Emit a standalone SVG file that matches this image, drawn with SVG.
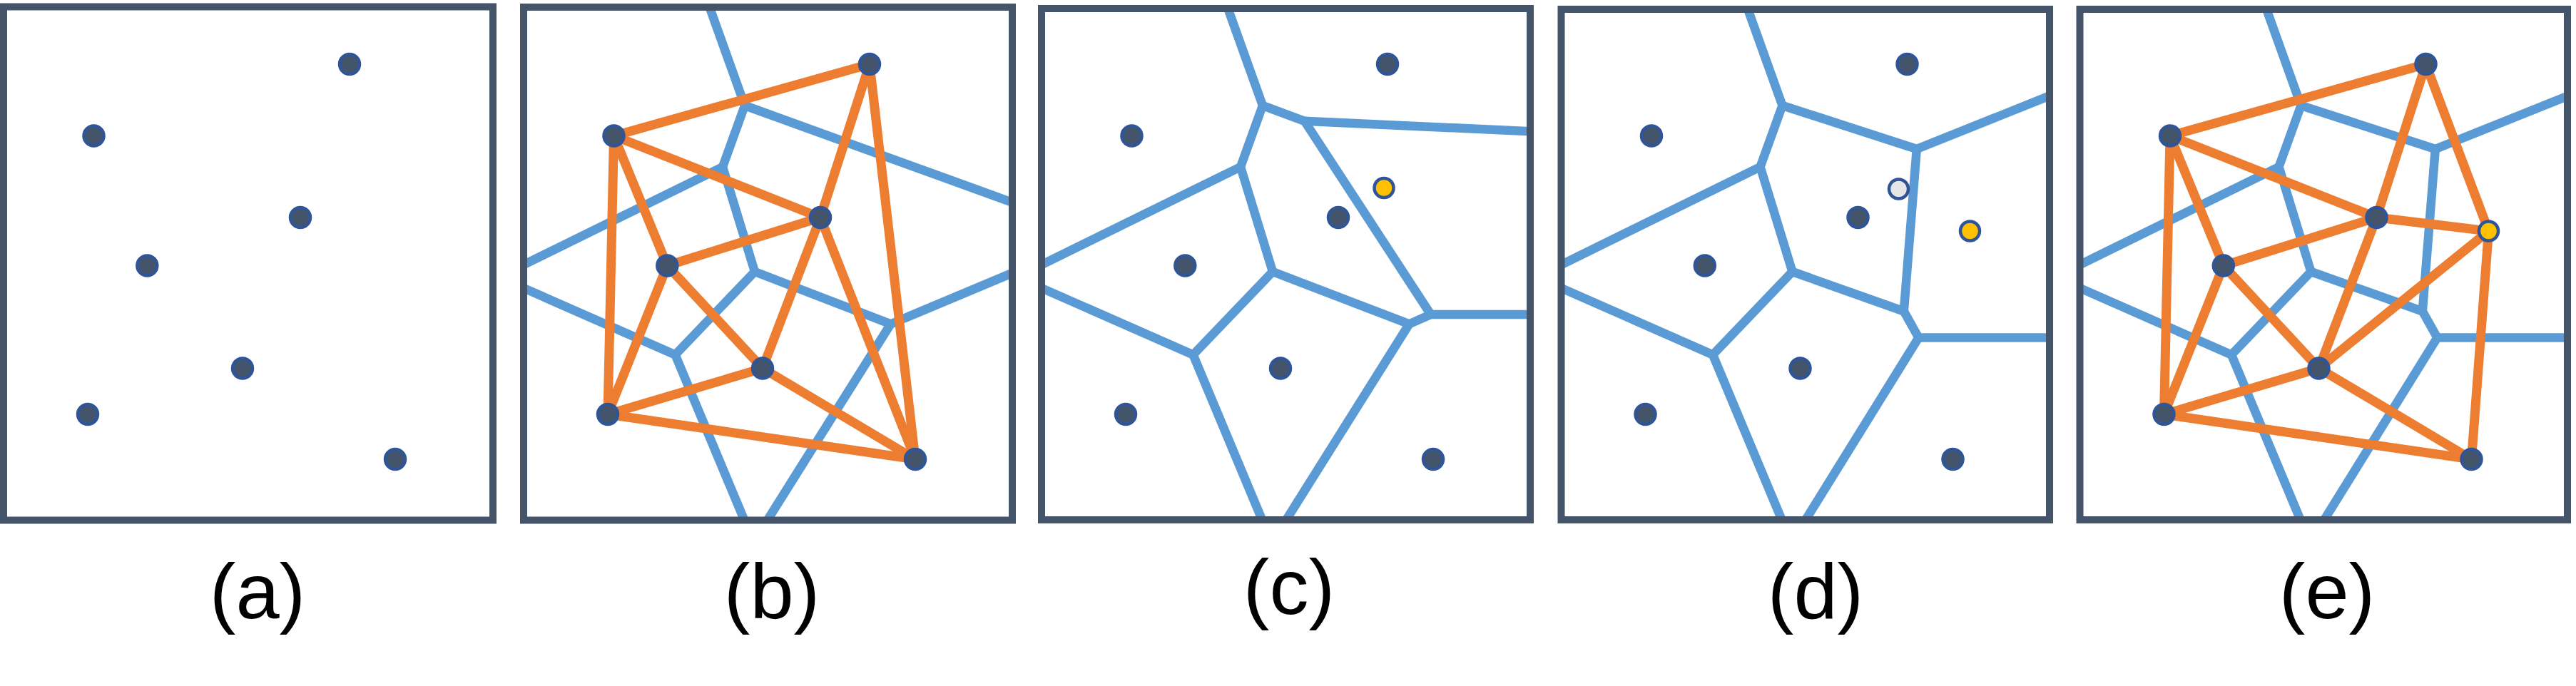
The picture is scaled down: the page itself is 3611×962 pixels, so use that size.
<svg xmlns="http://www.w3.org/2000/svg" width="3611" height="962" viewBox="0 0 3611 962">
<style>
.frame{fill:none;stroke:#44546A;stroke-width:10}
.vor line{stroke:#5B9BD5;stroke-width:12.5;stroke-linecap:butt}
.del line{stroke:#ED7D31;stroke-width:13;stroke-linecap:round}
.pt{fill:#44546A;stroke:#2F5597;stroke-width:4.5}
.ypt{fill:#FFC000;stroke:#2F5597;stroke-width:4.5}
.wpt{fill:#E7E6E6;stroke:#2F5597;stroke-width:4.5}
.lbl{font-family:"Liberation Sans",Arial,sans-serif;font-size:110px;fill:#000;text-anchor:middle}
</style>
<defs>
<clipPath id="inner" clipPathUnits="userSpaceOnUse"><rect x="0" y="11" width="685" height="718.5"/></clipPath>
</defs>
<rect width="3611" height="962" fill="#fff"/>

<!-- Panel (a) -->
<g id="panel-a" transform="translate(5,0)">
  <g id="a-p1"><circle class="pt" cx="485" cy="90" r="14"/></g>
  <g id="a-p2"><circle class="pt" cx="126.5" cy="190.5" r="14"/></g>
  <g id="a-p3"><circle class="pt" cx="416" cy="305" r="14"/></g>
  <g id="a-p4"><circle class="pt" cx="201.3" cy="372.5" r="14"/></g>
  <g id="a-p5"><circle class="pt" cx="335" cy="516.5" r="14"/></g>
  <g id="a-p6"><circle class="pt" cx="118" cy="581" r="14"/></g>
  <g id="a-p7"><circle class="pt" cx="549" cy="644" r="14"/></g>
  <rect class="frame" x="0" y="9.5" width="686" height="720"/>
</g>

<!-- Panel (b) -->
<g id="panel-b" transform="translate(734,0)">
  <g id="b-connectors">
    <g class="vor" clip-path="url(#inner)">
      <line x1="257" y1="0" x2="310" y2="148"/>
      <line x1="310" y1="148" x2="279" y2="234"/>
      <line x1="279" y1="234" x2="-10" y2="376.1"/>
      <line x1="279" y1="234" x2="324" y2="381"/>
      <line x1="324" y1="381" x2="212.5" y2="497.5"/>
      <line x1="212.5" y1="497.5" x2="-10" y2="399.6"/>
      <line x1="212.5" y1="497.5" x2="313.8" y2="740"/>
      <line x1="310" y1="148" x2="695" y2="287.4"/>
      <line x1="324" y1="381" x2="514.5" y2="454.4"/>
      <line x1="514.5" y1="454.4" x2="695" y2="378.7"/>
      <line x1="514.5" y1="454.4" x2="335.1" y2="740"/>
    </g>
    <g class="del">
      <line x1="126.5" y1="190.5" x2="485" y2="90"/>
      <line x1="485" y1="90" x2="416" y2="305"/>
      <line x1="485" y1="90" x2="549" y2="644"/>
      <line x1="126.5" y1="190.5" x2="416" y2="305"/>
      <line x1="126.5" y1="190.5" x2="201.3" y2="372.5"/>
      <line x1="126.5" y1="190.5" x2="118" y2="581"/>
      <line x1="416" y1="305" x2="201.3" y2="372.5"/>
      <line x1="416" y1="305" x2="335" y2="516.5"/>
      <line x1="416" y1="305" x2="549" y2="644"/>
      <line x1="201.3" y1="372.5" x2="335" y2="516.5"/>
      <line x1="201.3" y1="372.5" x2="118" y2="581"/>
      <line x1="335" y1="516.5" x2="118" y2="581"/>
      <line x1="335" y1="516.5" x2="549" y2="644"/>
      <line x1="118" y1="581" x2="549" y2="644"/>
    </g>
  </g>
  <g id="b-p1"><circle class="pt" cx="485" cy="90" r="14"/></g>
  <g id="b-p2"><circle class="pt" cx="126.5" cy="190.5" r="14"/></g>
  <g id="b-p3"><circle class="pt" cx="416" cy="305" r="14"/></g>
  <g id="b-p4"><circle class="pt" cx="201.3" cy="372.5" r="14"/></g>
  <g id="b-p5"><circle class="pt" cx="335" cy="516.5" r="14"/></g>
  <g id="b-p6"><circle class="pt" cx="118" cy="581" r="14"/></g>
  <g id="b-p7"><circle class="pt" cx="549" cy="644" r="14"/></g>
  <rect class="frame" x="0" y="10" width="685" height="719.5"/>
</g>

<!-- Panel (c) -->
<g id="panel-c" transform="translate(1460,0)">
  <g id="c-connectors">
    <g class="vor" clip-path="url(#inner)">
      <line x1="257" y1="0" x2="310" y2="148"/>
      <line x1="310" y1="148" x2="279" y2="234"/>
      <line x1="279" y1="234" x2="-10" y2="376.1"/>
      <line x1="279" y1="234" x2="324" y2="381"/>
      <line x1="324" y1="381" x2="212.5" y2="497.5"/>
      <line x1="212.5" y1="497.5" x2="-10" y2="399.6"/>
      <line x1="212.5" y1="497.5" x2="313.8" y2="740"/>
      <line x1="310" y1="148" x2="368.7" y2="169.8"/>
      <line x1="368.7" y1="169.8" x2="695" y2="184.7"/>
      <line x1="368.7" y1="169.8" x2="545.6" y2="441"/>
      <line x1="324" y1="381" x2="515.4" y2="454.4"/>
      <line x1="515.4" y1="454.4" x2="545.6" y2="441"/>
      <line x1="545.6" y1="441" x2="695" y2="441"/>
      <line x1="515.4" y1="454.4" x2="336.1" y2="740"/>
    </g>
  </g>
  <g id="c-p1"><circle class="pt" cx="485" cy="90" r="14"/></g>
  <g id="c-p2"><circle class="pt" cx="126.5" cy="190.5" r="14"/></g>
  <g id="c-p3"><circle class="pt" cx="416" cy="305" r="14"/></g>
  <g id="c-p4"><circle class="pt" cx="201.3" cy="372.5" r="14"/></g>
  <g id="c-p5"><circle class="pt" cx="335" cy="516.5" r="14"/></g>
  <g id="c-p6"><circle class="pt" cx="118" cy="581" r="14"/></g>
  <g id="c-p7"><circle class="pt" cx="549" cy="644" r="14"/></g>
  <g id="c-new"><circle class="ypt" cx="480" cy="263.5" r="13.5"/></g>
  <rect class="frame" x="0" y="12" width="685" height="717"/>
</g>

<!-- Panel (d) -->
<g id="panel-d" transform="translate(2188.5,0)">
  <g id="d-connectors">
    <g class="vor" clip-path="url(#inner)">
      <line x1="257" y1="0" x2="310" y2="148"/>
      <line x1="310" y1="148" x2="279" y2="234"/>
      <line x1="279" y1="234" x2="-10" y2="376.1"/>
      <line x1="279" y1="234" x2="324" y2="381"/>
      <line x1="324" y1="381" x2="212.5" y2="497.5"/>
      <line x1="212.5" y1="497.5" x2="-10" y2="399.6"/>
      <line x1="212.5" y1="497.5" x2="313.8" y2="740"/>
      <line x1="310" y1="148" x2="498.3" y2="209"/>
      <line x1="498.3" y1="209" x2="695" y2="130.3"/>
      <line x1="498.3" y1="209" x2="480.3" y2="436.5"/>
      <line x1="324" y1="381" x2="480.3" y2="436.5"/>
      <line x1="480.3" y1="436.5" x2="501" y2="473.5"/>
      <line x1="501" y1="473.5" x2="695" y2="473.5"/>
      <line x1="501" y1="473.5" x2="335.7" y2="740"/>
    </g>
  </g>
  <g id="d-p1"><circle class="pt" cx="485" cy="90" r="14"/></g>
  <g id="d-p2"><circle class="pt" cx="126.5" cy="190.5" r="14"/></g>
  <g id="d-p3"><circle class="pt" cx="416" cy="305" r="14"/></g>
  <g id="d-p4"><circle class="pt" cx="201.3" cy="372.5" r="14"/></g>
  <g id="d-p5"><circle class="pt" cx="335" cy="516.5" r="14"/></g>
  <g id="d-p6"><circle class="pt" cx="118" cy="581" r="14"/></g>
  <g id="d-p7"><circle class="pt" cx="549" cy="644" r="14"/></g>
  <g id="d-old"><circle class="wpt" cx="473" cy="265" r="13.5"/></g>
  <g id="d-new"><circle class="ypt" cx="573" cy="324" r="13.5"/></g>
  <rect class="frame" x="0" y="13" width="684.5" height="716"/>
</g>

<!-- Panel (e) -->
<g id="panel-e" transform="translate(2915.5,0)">
  <g id="e-connectors">
    <g class="vor" clip-path="url(#inner)">
      <line x1="257" y1="0" x2="310" y2="148"/>
      <line x1="310" y1="148" x2="279" y2="234"/>
      <line x1="279" y1="234" x2="-10" y2="376.1"/>
      <line x1="279" y1="234" x2="324" y2="381"/>
      <line x1="324" y1="381" x2="212.5" y2="497.5"/>
      <line x1="212.5" y1="497.5" x2="-10" y2="399.6"/>
      <line x1="212.5" y1="497.5" x2="313.8" y2="740"/>
      <line x1="310" y1="148" x2="498.3" y2="209"/>
      <line x1="498.3" y1="209" x2="695" y2="130.3"/>
      <line x1="498.3" y1="209" x2="480.3" y2="436.5"/>
      <line x1="324" y1="381" x2="480.3" y2="436.5"/>
      <line x1="480.3" y1="436.5" x2="501" y2="473.5"/>
      <line x1="501" y1="473.5" x2="695" y2="473.5"/>
      <line x1="501" y1="473.5" x2="335.7" y2="740"/>
    </g>
    <g class="del">
      <line x1="126.5" y1="190.5" x2="485" y2="90"/>
      <line x1="485" y1="90" x2="416" y2="305"/>
      <line x1="485" y1="90" x2="573" y2="324"/>
      <line x1="126.5" y1="190.5" x2="416" y2="305"/>
      <line x1="126.5" y1="190.5" x2="201.3" y2="372.5"/>
      <line x1="126.5" y1="190.5" x2="118" y2="581"/>
      <line x1="416" y1="305" x2="201.3" y2="372.5"/>
      <line x1="416" y1="305" x2="573" y2="324"/>
      <line x1="416" y1="305" x2="335" y2="516.5"/>
      <line x1="201.3" y1="372.5" x2="335" y2="516.5"/>
      <line x1="201.3" y1="372.5" x2="118" y2="581"/>
      <line x1="335" y1="516.5" x2="118" y2="581"/>
      <line x1="335" y1="516.5" x2="573" y2="324"/>
      <line x1="335" y1="516.5" x2="549" y2="644"/>
      <line x1="118" y1="581" x2="549" y2="644"/>
      <line x1="573" y1="324" x2="549" y2="644"/>
    </g>
  </g>
  <g id="e-p1"><circle class="pt" cx="485" cy="90" r="14"/></g>
  <g id="e-p2"><circle class="pt" cx="126.5" cy="190.5" r="14"/></g>
  <g id="e-p3"><circle class="pt" cx="416" cy="305" r="14"/></g>
  <g id="e-p4"><circle class="pt" cx="201.3" cy="372.5" r="14"/></g>
  <g id="e-p5"><circle class="pt" cx="335" cy="516.5" r="14"/></g>
  <g id="e-p6"><circle class="pt" cx="118" cy="581" r="14"/></g>
  <g id="e-p7"><circle class="pt" cx="549" cy="644" r="14"/></g>
  <g id="e-new"><circle class="ypt" cx="573" cy="324" r="13.5"/></g>
  <rect class="frame" x="0" y="13" width="683.5" height="716"/>
</g>

<g id="labels">
  <text class="lbl" x="361" y="867">(a)</text>
  <text class="lbl" x="1082" y="867">(b)</text>
  <text class="lbl" x="1807" y="861">(c)</text>
  <text class="lbl" x="2545" y="867">(d)</text>
  <text class="lbl" x="3262" y="867">(e)</text>
</g>
</svg>
